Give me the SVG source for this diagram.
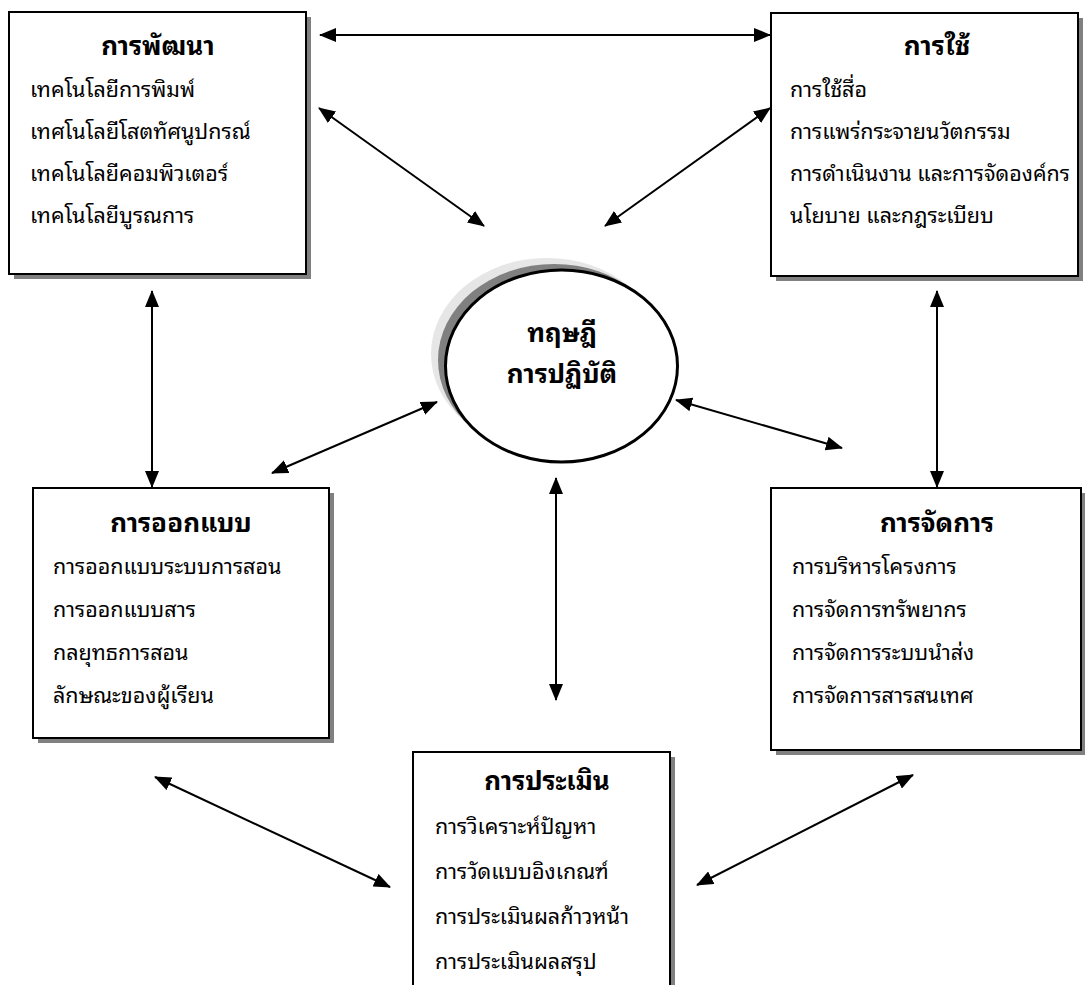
<svg xmlns="http://www.w3.org/2000/svg" width="1085" height="985" viewBox="0 0 1085 985">
<style>
.shadow{fill:#808080;stroke:none}
.box{fill:#fff;stroke:#000;stroke-width:2}
.title{font-family:"Noto Sans Thai Looped","Noto Sans Thai","Noto Sans","DejaVu Sans",sans-serif;font-size:26px;font-weight:bold;fill:#000;text-anchor:middle}
.item{font-family:"Noto Sans Thai Looped","Noto Sans Thai","Noto Sans","DejaVu Sans",sans-serif;font-size:21.5px;fill:#000}
.conn{stroke:#000;stroke-width:2;fill:none;marker-start:url(#ah);marker-end:url(#ah)}
</style>
<defs>
<marker id="ah" viewBox="0 0 17 14" refX="16" refY="7" markerWidth="17" markerHeight="14" markerUnits="userSpaceOnUse" orient="auto-start-reverse">
<path d="M0,0 L17,7 L0,14 Z" fill="#000"/>
</marker>
</defs>
<rect width="1085" height="985" fill="#fff"/>

<g id="connectors">
<line class="conn" x1="320" y1="35" x2="770" y2="35"/>
<line class="conn" x1="319" y1="108" x2="484" y2="226"/>
<line class="conn" x1="770" y1="108" x2="605" y2="226"/>
<line class="conn" x1="437" y1="402" x2="272" y2="473"/>
<line class="conn" x1="676" y1="400" x2="842" y2="448"/>
<line class="conn" x1="152" y1="291" x2="152" y2="487"/>
<line class="conn" x1="937" y1="291" x2="937" y2="487"/>
<line class="conn" x1="556" y1="478" x2="556" y2="700"/>
<line class="conn" x1="155" y1="777" x2="390" y2="887"/>
<line class="conn" x1="913" y1="775" x2="697" y2="885"/>
</g>

<g id="theory">
<ellipse cx="547" cy="354" rx="116" ry="96" fill="#e6e6e6"/>
<ellipse cx="554" cy="360" rx="116" ry="96" fill="#808080"/>
<ellipse cx="561.5" cy="366" rx="116" ry="96" fill="#fff" stroke="#000" stroke-width="3"/>
<text class="title" x="562" y="342">ทฤษฎี</text>
<text class="title" x="562" y="383">การปฏิบัติ</text>
</g>

<g id="development">
<rect class="shadow" x="14" y="17" width="297" height="262"/>
<rect class="box" x="9" y="12" width="297" height="262"/>
<text class="title" x="158" y="55">การพัฒนา</text>
<text class="item" x="30" y="97">เทคโนโลยีการพิมพ์</text>
<text class="item" x="30" y="139">เทศโนโลยีโสตทัศนูปกรณ์</text>
<text class="item" x="30" y="181">เทคโนโลยีคอมพิวเตอร์</text>
<text class="item" x="30" y="223">เทคโนโลยีบูรณการ</text>
</g>

<g id="utilization">
<rect class="shadow" x="776" y="18" width="307" height="263"/>
<rect class="box" x="771" y="13" width="307" height="263"/>
<text class="title" x="937" y="55">การใช้</text>
<text class="item" x="790" y="97">การใช้สื่อ</text>
<text class="item" x="790" y="139">การแพร่กระจายนวัตกรรม</text>
<text class="item" x="790" y="181">การดำเนินงาน และการจัดองค์กร</text>
<text class="item" x="790" y="223">นโยบาย และกฎระเบียบ</text>
</g>

<g id="design">
<rect class="shadow" x="38" y="493" width="296" height="250"/>
<rect class="box" x="33" y="488" width="296" height="250"/>
<text class="title" x="181" y="532">การออกแบบ</text>
<text class="item" x="53" y="574">การออกแบบระบบการสอน</text>
<text class="item" x="53" y="617">การออกแบบสาร</text>
<text class="item" x="53" y="660">กลยุทธการสอน</text>
<text class="item" x="53" y="703">ลักษณะของผู้เรียน</text>
</g>

<g id="management">
<rect class="shadow" x="776" y="493" width="310" height="262"/>
<rect class="box" x="771" y="488" width="310" height="262"/>
<text class="title" x="937" y="532">การจัดการ</text>
<text class="item" x="792" y="574">การบริหารโครงการ</text>
<text class="item" x="792" y="617">การจัดการทรัพยากร</text>
<text class="item" x="792" y="660">การจัดการระบบนำส่ง</text>
<text class="item" x="792" y="703">การจัดการสารสนเทศ</text>
</g>

<g id="evaluation">
<rect class="shadow" x="418" y="757" width="257" height="240"/>
<rect class="box" x="413" y="752" width="257" height="240"/>
<text class="title" x="547" y="790">การประเมิน</text>
<text class="item" x="435" y="834">การวิเคราะห์ปัญหา</text>
<text class="item" x="435" y="879">การวัดแบบอิงเกณฑ์</text>
<text class="item" x="435" y="924">การประเมินผลก้าวหน้า</text>
<text class="item" x="435" y="969">การประเมินผลสรุป</text>
</g>
</svg>
